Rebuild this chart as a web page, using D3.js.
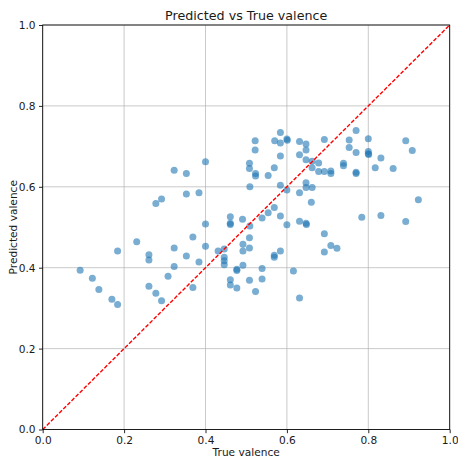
<!DOCTYPE html>
<html>
<head>
<meta charset="utf-8">
<script src="https://cdn.jsdelivr.net/npm/d3@7"></script>
<style>
  html, body { margin: 0; padding: 0; background: #fff; }
  svg { display: block; font-family: "DejaVu Sans", sans-serif; }
</style>
</head>
<body>
<svg id="chart" width="458" height="458"></svg>
<script>
// ---- data ----
const titleText = "Predicted vs True valence";
const xLabel = "True valence";
const yLabel = "Predicted valence";
const tickValues = [0, 0.2, 0.4, 0.6, 0.8, 1.0];

const trueVals = [
  0.092, 0.122, 0.138, 0.170, 0.184, 0.184, 0.231, 0.261, 0.261, 0.261,
  0.278, 0.292, 0.278, 0.292, 0.308, 0.323, 0.323, 0.323, 0.353, 0.353,
  0.353, 0.369, 0.369, 0.384, 0.384, 0.400, 0.400, 0.400, 0.431, 0.446,
  0.446, 0.446, 0.446, 0.461, 0.461, 0.461, 0.461, 0.461, 0.477, 0.477,
  0.477, 0.491, 0.492, 0.492, 0.492, 0.508, 0.508, 0.509, 0.509, 0.508,
  0.508, 0.508, 0.522, 0.522, 0.523, 0.523, 0.523, 0.539, 0.539, 0.539,
  0.554, 0.554, 0.570, 0.569, 0.569, 0.569, 0.569, 0.584, 0.584, 0.584,
  0.584, 0.584, 0.584, 0.600, 0.601, 0.600, 0.600, 0.616, 0.631, 0.631,
  0.631, 0.631, 0.631, 0.647, 0.647, 0.647, 0.647, 0.647, 0.647, 0.648,
  0.662, 0.662, 0.662, 0.660, 0.678, 0.678, 0.692, 0.692, 0.692, 0.692,
  0.708, 0.708, 0.708, 0.723, 0.739, 0.739, 0.753, 0.753, 0.770, 0.770,
  0.770, 0.770, 0.784, 0.800, 0.800, 0.800, 0.801, 0.817, 0.831, 0.831,
  0.861, 0.892, 0.892, 0.908, 0.923
];
const predVals = [
  0.394, 0.374, 0.346, 0.322, 0.309, 0.441, 0.464, 0.432, 0.419, 0.354,
  0.337, 0.318, 0.559, 0.570, 0.379, 0.449, 0.403, 0.641, 0.633, 0.582,
  0.429, 0.476, 0.351, 0.585, 0.414, 0.662, 0.508, 0.453, 0.441, 0.446,
  0.426, 0.417, 0.407, 0.526, 0.510, 0.507, 0.370, 0.357, 0.396, 0.393,
  0.350, 0.520, 0.458, 0.441, 0.406, 0.658, 0.645, 0.600, 0.503, 0.474,
  0.449, 0.369, 0.714, 0.691, 0.633, 0.627, 0.341, 0.523, 0.398, 0.372,
  0.536, 0.628, 0.714, 0.647, 0.549, 0.431, 0.426, 0.734, 0.708, 0.676,
  0.604, 0.528, 0.441, 0.718, 0.715, 0.592, 0.506, 0.392, 0.712, 0.679,
  0.585, 0.515, 0.325, 0.706, 0.691, 0.667, 0.610, 0.598, 0.510, 0.507,
  0.663, 0.647, 0.598, 0.562, 0.659, 0.638, 0.717, 0.638, 0.484, 0.439,
  0.639, 0.633, 0.455, 0.448, 0.658, 0.652, 0.716, 0.697, 0.739, 0.685,
  0.636, 0.633, 0.525, 0.719, 0.687, 0.682, 0.680, 0.647, 0.671, 0.529,
  0.645, 0.714, 0.514, 0.690, 0.568
];
const points = trueVals.map((t, i) => ({ t, p: predVals[i] }));

// ---- layout ----
const svg = d3.select("#chart");
const plotL = 42.7, plotR = 449.7, plotT = 25, plotB = 429.5;
const x = d3.scaleLinear().domain([0, 1]).range([plotL, plotR]);
const y = d3.scaleLinear().domain([0, 1]).range([plotB, plotT]);
const fmt = d3.format(".1f");
const textColor = "#1a1a1a";

// grid
const grid = svg.append("g").attr("class", "grid");
grid.selectAll("line.vx").data(tickValues).join("line")
  .attr("x1", d => x(d)).attr("x2", d => x(d))
  .attr("y1", plotT).attr("y2", plotB)
  .attr("stroke", "#b0b0b0").attr("stroke-opacity", 0.75).attr("stroke-width", 0.9);
grid.selectAll("line.hy").data(tickValues).join("line")
  .attr("x1", plotL).attr("x2", plotR)
  .attr("y1", d => y(d)).attr("y2", d => y(d))
  .attr("stroke", "#b0b0b0").attr("stroke-opacity", 0.75).attr("stroke-width", 0.9);

// points
svg.append("g").selectAll("circle").data(points).join("circle")
  .attr("cx", d => x(d.t))
  .attr("cy", d => y(d.p))
  .attr("r", 3.5)
  .attr("fill", "#1f77b4")
  .attr("fill-opacity", 0.6);

// diagonal
svg.append("line")
  .attr("x1", x(0)).attr("y1", y(0))
  .attr("x2", x(1)).attr("y2", y(1))
  .attr("stroke", "#ff0000")
  .attr("stroke-width", 1.4)
  .attr("stroke-dasharray", "4,1.8");

// frame
svg.append("rect")
  .attr("x", plotL).attr("y", plotT)
  .attr("width", plotR - plotL).attr("height", plotB - plotT)
  .attr("fill", "none").attr("stroke", "#000").attr("stroke-width", 0.85);

// axes
const xAxis = d3.axisBottom(x).tickValues(tickValues).tickFormat(fmt)
  .tickSize(3.7).tickPadding(3.5);
const yAxis = d3.axisLeft(y).tickValues(tickValues).tickFormat(fmt)
  .tickSize(3.7).tickPadding(3.5);

const gx = svg.append("g").attr("transform", `translate(0,${plotB})`).call(xAxis);
const gy = svg.append("g").attr("transform", `translate(${plotL},0)`).call(yAxis);
[gx, gy].forEach(g => {
  g.select(".domain").remove();
  g.selectAll(".tick line").attr("stroke", "#000").attr("stroke-width", 0.85);
  g.selectAll(".tick text").attr("fill", textColor)
    .style("font-family", "'DejaVu Sans', sans-serif").style("font-size", "10.6px");
});

// labels
svg.append("text")
  .attr("x", (plotL + plotR) / 2).attr("y", 456)
  .attr("text-anchor", "middle")
  .attr("fill", textColor)
  .style("font-size", "10.6px")
  .text(xLabel);

svg.append("text")
  .attr("transform", `translate(16.5,${(plotT + plotB) / 2}) rotate(-90)`)
  .attr("text-anchor", "middle")
  .attr("fill", textColor)
  .style("font-size", "10.6px")
  .text(yLabel);

svg.append("text")
  .attr("x", (plotL + plotR) / 2).attr("y", 20)
  .attr("text-anchor", "middle")
  .attr("fill", textColor)
  .style("font-size", "12.7px")
  .text(titleText);
</script>
</body>
</html>
